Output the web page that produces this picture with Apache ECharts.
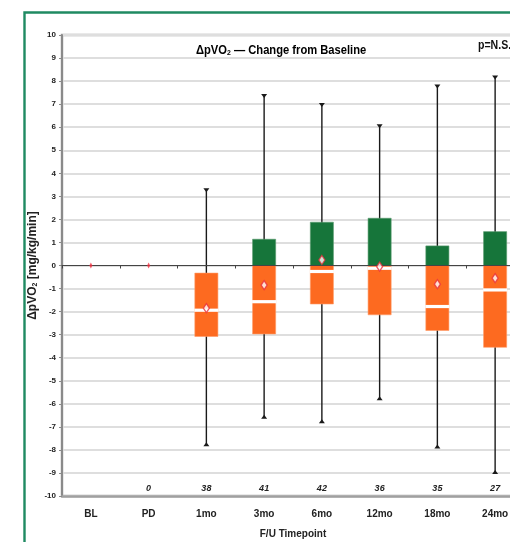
<!DOCTYPE html>
<html>
<head>
<meta charset="utf-8">
<script src="https://cdn.jsdelivr.net/npm/echarts@6/dist/echarts.min.js"></script>
<style>
  html, body { margin: 0; padding: 0; overflow: hidden; background: #fff; width: 510px; height: 542px; }
  #chart { width: 560px; height: 542px; }
</style>
</head>
<body>
<div id="chart"></div>
<script>
// Follow-up timepoints and number of patients at each
const categories = ['BL', 'PD', '1mo', '3mo', '6mo', '12mo', '18mo', '24mo'];
const counts = ['', '0', '38', '41', '42', '36', '35', '27'];

// Change in peak VO2 from baseline [mg/kg/min]: box-plot statistics per timepoint
const whiskerLow  = [null, null, -7.8, -6.6, -6.8, -5.8, -7.9, -9.0];
const quartile1   = [null, null, -3.08, -2.97, -1.67, -2.14, -2.82, -3.55];
const median      = [null, null, -1.94, -1.57, -0.26, -0.12, -1.78, -1.06];
const quartile3   = [null, null, -0.33, 1.14, 1.88, 2.05, 0.85, 1.47];
const whiskerHigh = [null, null, 3.31, 7.4, 7.01, 6.09, 7.81, 8.2];
const mean        = [0, 0, -1.85, -0.85, 0.24, -0.05, -0.81, -0.55];

// Value axis range
const yMin = -10, yMax = 10, yStep = 1;

const GREEN = '#16753a';
const ORANGE = '#fd6a20';
const FONT = '"Liberation Sans", Arial, sans-serif';

const boxData = categories.map((c, i) => [i, whiskerLow[i], quartile1[i], median[i], quartile3[i], whiskerHigh[i]]);

function renderBox(params, api) {
  const i = api.value(0);
  const lo = api.value(1), q1 = api.value(2), med = api.value(3), q3 = api.value(4), hi = api.value(5);
  if (isNaN(q1) || isNaN(q3)) return null;
  const band = api.size([1, 0])[0];
  const bw = band * 0.4;
  const x = api.coord([i, 0])[0];
  const py = v => api.coord([i, v])[1];
  const left = x - bw / 2;
  const kids = [];
  // whisker line with small triangular caps
  kids.push({ type: 'line', shape: { x1: x, y1: py(hi), x2: x, y2: py(lo) }, style: { stroke: '#1a1a1a', lineWidth: 1.4 } });
  const yh = py(hi), yl = py(lo);
  kids.push({ type: 'polygon', shape: { points: [[x - 3, yh - 1], [x + 3, yh - 1], [x, yh + 3]] }, style: { fill: '#1a1a1a' } });
  kids.push({ type: 'polygon', shape: { points: [[x - 3, yl + 1], [x + 3, yl + 1], [x, yl - 3]] }, style: { fill: '#1a1a1a' } });
  // part of the box above zero
  if (q3 > 0) {
    const top = py(q3), bot = py(Math.max(q1, 0));
    kids.push({ type: 'rect', shape: { x: left, y: top, width: bw, height: bot - top }, style: { fill: GREEN, stroke: '#5a9a6e', lineWidth: 0.6 } });
  }
  // part of the box below zero
  if (q1 < 0) {
    const top = py(Math.min(q3, 0)), bot = py(q1);
    kids.push({ type: 'rect', shape: { x: left, y: top, width: bw, height: bot - top }, style: { fill: ORANGE, stroke: '#ff9a66', lineWidth: 0.6 } });
  }
  // median as a white gap
  const ym = py(med);
  kids.push({ type: 'line', shape: { x1: left - 0.5, y1: ym, x2: left + bw + 0.5, y2: ym }, style: { stroke: '#ffffff', lineWidth: 3.2 } });
  return { type: 'group', children: kids };
}

const meanData = mean.map((v, i) => {
  const noBox = quartile1[i] === null;
  return {
    value: [i, v],
    symbolSize: noBox ? [3, 6] : [6, 9],
    itemStyle: noBox ? { color: '#f03040', borderWidth: 0 } : { color: '#ffffff', borderColor: '#e8303c', borderWidth: 1.3 }
  };
});

const chart = echarts.init(document.getElementById('chart'), null, { renderer: 'canvas' });
chart.setOption({
  animation: false,
  backgroundColor: '#ffffff',
  graphic: [
    { type: 'rect', left: 22, top: 10, shape: { width: 600, height: 600 }, style: { fill: 'none', stroke: '#1f8a62', lineWidth: 2.4 }, z: -1 },
    {
      type: 'text', x: 196, y: 43, scaleX: 0.86, z: 10,
      style: {
        text: '{a|ΔpVO}{s|2}{a| — Change from Baseline}',
        rich: {
          a: { fontFamily: FONT, fontWeight: 'bold', fontSize: 13, color: '#111' },
          s: { fontFamily: FONT, fontWeight: 'bold', fontSize: 8, color: '#111', padding: [6, 0, 0, 0] }
        }
      }
    },
    { type: 'text', x: 478, y: 40, scaleX: 0.88, z: 10, style: { text: 'p=N.S.', fontFamily: FONT, fontWeight: 'bold', fontSize: 12, fill: '#111' } }
  ],
  grid: {
    left: 62, top: 35, right: 36, bottom: 46,
    containLabel: false, outerBoundsMode: 'none',
    show: true, borderColor: '#a8a8a8', borderWidth: 2.5
  },
  xAxis: [
    {
      type: 'category', data: categories, position: 'bottom',
      axisLine: { onZero: false, lineStyle: { color: '#a0a0a0', width: 2.5 } },
      axisTick: { show: false },
      axisLabel: { fontFamily: FONT, fontWeight: 'bold', fontSize: 10, color: '#222', margin: 13 },
      name: 'F/U Timepoint', nameLocation: 'middle', nameGap: 33, nameMoveOverlap: false,
      nameTextStyle: { fontFamily: FONT, fontWeight: 'bold', fontSize: 10, color: '#222' },
      splitLine: { show: false }
    },
    {
      type: 'category', data: counts, position: 'bottom',
      axisLine: { show: false, onZero: false },
      axisTick: { show: false },
      axisLabel: { inside: true, fontFamily: FONT, fontStyle: 'italic', fontWeight: 'bold', fontSize: 9, color: '#222', margin: 3 },
      splitLine: { show: false }
    },
    {
      type: 'category', data: categories, position: 'bottom', z: 5,
      axisLine: { onZero: true, lineStyle: { color: '#444', width: 1.2 } },
      axisTick: { show: true, length: 3, lineStyle: { color: '#444', width: 1 } },
      axisLabel: { show: false },
      splitLine: { show: false }
    }
  ],
  yAxis: {
    type: 'value', min: yMin, max: yMax, interval: yStep,
    name: '{a|ΔpVO}{s|2}{a| [mg/kg/min]}', nameLocation: 'middle', nameGap: 23, nameRotate: 90,
    nameMoveOverlap: false,
    nameTextStyle: {
      rich: {
        a: { fontFamily: FONT, fontWeight: 'bold', fontSize: 12, color: '#222' },
        s: { fontFamily: FONT, fontWeight: 'bold', fontSize: 7, color: '#222', padding: [5, 0, 0, 0] }
      }
    },
    axisLine: { show: true, lineStyle: { color: '#8a8a8a', width: 2 } },
    axisTick: { show: true, length: 3, lineStyle: { color: '#8a8a8a' } },
    axisLabel: { fontFamily: FONT, fontWeight: 'bold', fontSize: 8, color: '#222', margin: 6 },
    splitLine: { show: true, lineStyle: { color: '#dedede', width: 2 } }
  },
  series: [
    {
      type: 'custom', xAxisIndex: 0, renderItem: renderBox,
      encode: { x: 0, y: [1, 2, 3, 4, 5] },
      data: boxData, z: 2
    },
    {
      type: 'scatter', xAxisIndex: 0, symbol: 'diamond',
      data: meanData, z: 6
    }
  ]
});
</script>
</body>
</html>
